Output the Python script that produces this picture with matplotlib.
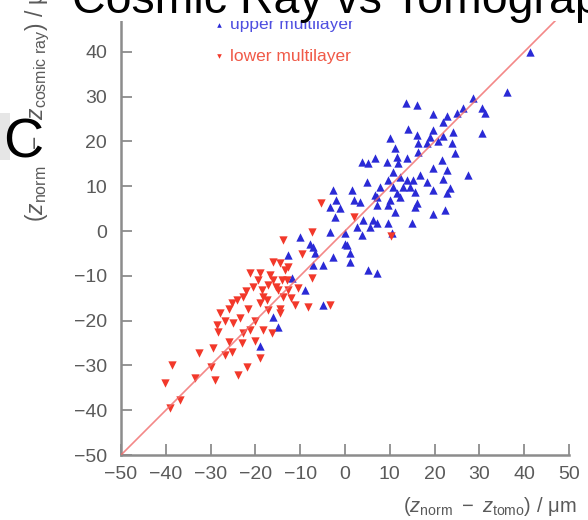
import matplotlib.pyplot as plt
from matplotlib.patches import Rectangle

plt.rcParams["font.family"] = ["Liberation Sans", "DejaVu Sans"]
plt.rcParams["mathtext.fontset"] = "custom"
plt.rcParams["mathtext.rm"] = "Liberation Sans"
plt.rcParams["mathtext.it"] = "Liberation Sans:italic"

# values (micrometres)
upper_x = [41.3, 36.1, 13.6, 16.0, 19.7, 22.7, 21.9, 28.6, 30.5, 31.3, 26.4, 24.9,
           30.5, 14.1, 16.0, 19.7, 19.0, 21.9, 24.2, 20.8, 23.8, 18.2, 10.0, 11.2,
           16.4, 16.4, 24.6, 11.5, 13.8, 6.7, 3.7, 5.2, 9.3, 11.9, 19.7, 21.6,
           22.7, 27.5, 21.9, 18.2, 19.7, 23.4, 22.7, 16.7, 10.8, 12.3, 13.8, 15.2,
           13.0, 14.5, 15.6, 11.5, 9.7, 10.8, 7.8, 4.8, -2.6, 1.5, 3.3, 6.7,
           9.7, 11.2, 15.6, 19.7, 22.3, 10.0, 12.3, 16.0, 7.1, 7.1, -1.9, 1.9,
           -3.3, -1.1, -2.2, 4.1, 6.3, 5.6, 2.6, 7.1, 3.7, 9.7, 14.9, 10.4,
           -3.3, 0.0, 0.4, -7.1, -6.7, -2.6, 1.1, -10.0, -7.8, 0.0, 1.1, -12.7,
           -4.8, -7.1, 5.2, 7.1, -11.9, -8.9, -4.8, -16.0, -15.0, -19.0]
upper_y = [40.0, 31.1, 28.5, 28.1, 26.2, 25.6, 24.4, 29.6, 27.4, 26.3, 27.4, 26.3,
           21.8, 22.7, 21.4, 22.5, 21.0, 21.1, 22.2, 20.0, 19.6, 19.6, 20.7, 18.5,
           19.6, 17.7, 17.3, 16.6, 16.2, 16.2, 15.5, 15.1, 15.5, 15.1, 14.0, 15.8,
           13.6, 12.5, 11.7, 11.0, 9.2, 9.5, 8.4, 12.5, 13.2, 12.1, 11.4, 11.4,
           9.9, 9.9, 8.8, 8.4, 11.4, 9.9, 9.9, 11.0, 9.2, 9.2, 6.5, 8.0,
           5.8, 4.3, 5.4, 3.9, 4.7, 6.9, 7.7, 6.2, 5.8, 7.7, 6.9, 6.9,
           5.4, 5.1, 3.2, 2.5, 2.5, 1.0, 1.0, 1.7, -0.9, 1.7, 1.7, -0.5,
           -0.2, -0.5, -3.1, -3.5, -5.0, -5.7, -5.0, -1.3, -2.8, -2.8, -6.9, -5.4,
           -7.6, -7.6, -8.7, -9.4, -10.6, -13.2, -16.5, -19.3, -21.5, -25.7]

lower_x = [-5.4, 2.0, -7.4, 10.2, -13.8, -9.6, -16.0, -14.5, -12.7, -13.4,
           -21.2, -19.0, -16.7, -16.0, -14.1, -17.1, -7.4, -20.5, -10.4, -14.9,
           -12.7, -18.6, -13.8, -18.2, -19.0, -24.2, -22.7, -25.3, -21.6, -14.5,
           -11.2, -8.2, -17.1, -3.3, -20.1, -23.4, -24.9, -21.2, -18.2, -22.7,
           -16.4, -14.5, -27.9, -26.8, -28.3, -26.0, -29.4, -26.8, -25.3, -32.7,
           -19.0, -38.7, -29.8, -21.9, -23.8, -33.5, -29.0, -40.2, -36.8, -39.1,
           -15.5, -13.0, -19.5, -22.0, -17.5, -26.0, -28.5, -23.0, -20.0, -12.0]
lower_y = [6.2, 3.2, -0.3, -1.2, -2.0, -5.2, -6.9, -7.2, -8.0, -8.7,
           -9.4, -9.4, -9.8, -10.9, -10.9, -12.1, -10.6, -12.4, -12.8, -13.2,
           -13.2, -13.2, -14.7, -14.7, -16.1, -15.4, -14.7, -16.1, -17.3, -17.3,
           -16.5, -16.9, -17.6, -16.5, -20.2, -19.5, -20.6, -22.1, -22.1, -22.8,
           -22.8, -18.4, -18.4, -20.2, -22.5, -24.7, -26.2, -27.7, -26.9, -27.3,
           -28.4, -29.9, -30.3, -30.3, -32.1, -32.9, -33.3, -34.0, -37.7, -39.6,
           -12.5, -11.0, -11.0, -13.5, -15.5, -17.5, -21.0, -25.0, -24.5, -15.0]

diag = [-50, 50]
ticks = [-50, -40, -30, -20, -10, 0, 10, 20, 30, 40, 50]

W, H = 588, 520
fig = plt.figure(figsize=(W / 100, H / 100), dpi=100)
ax = fig.add_axes([121 / W, 1 - 455 / H, 448 / W, 448 / H])

blue = "#2a2ad6"
red = "#f2382a"
axis_grey = "#8c8c8c"

ax.scatter(upper_x, upper_y, marker="^", s=36, color=blue, linewidths=0,
           label="upper multilayer", zorder=2)
ax.scatter(lower_x, lower_y, marker="v", s=36, color=red, linewidths=0,
           label="lower multilayer", zorder=2)
ax.plot(diag, diag, color="#f06a6a", lw=1.2, alpha=0.8, zorder=3)

ax.set_xlim(-50, 50)
ax.set_ylim(-50, 50)
ax.set_xticks(ticks)
ax.set_yticks(ticks[:-1])
for side in ["top", "right"]:
    ax.spines[side].set_visible(False)
for side in ["left", "bottom"]:
    ax.spines[side].set_color(axis_grey)
    ax.spines[side].set_linewidth(1.8)
ax.tick_params(direction="in", length=8, width=1.3, color=axis_grey,
               labelsize=14, labelcolor="#5a5a5a")
ax.tick_params(axis="x", pad=8)
ax.tick_params(axis="y", pad=10)

leg = ax.legend(loc="upper left", bbox_to_anchor=(214 / W, 1 - 17 / H),
                bbox_transform=fig.transFigure, frameon=False, fontsize=12.5,
                markerscale=0.55, handlelength=0.6, handletextpad=0.3,
                labelspacing=0.95, borderpad=0, borderaxespad=0,
                labelcolor=["#4e4ee0", "#f05a48"])

fig.text(576 / W, 1 - 507 / H, r"$(z_{\mathrm{norm}}\ -\ z_{\mathrm{tomo}})$ / μm",
         ha="right", va="center", fontsize=14.5, color="#5a5a5a")
fig.text(38 / W, 1 - 222 / H, r"$(z_{\mathrm{norm}}\ \ -\ \ z_{\mathrm{cosmic\ ray}})$ / μm",
         rotation=90, ha="center", va="bottom", fontsize=16.5, color="#5a5a5a")

# white band with the clipped title, and the stray panel letter
fig.patches.append(Rectangle((33 / W, 1 - 21 / H), 1, 21 / H, transform=fig.transFigure,
                             facecolor="white", edgecolor="none", zorder=2))
fig.text(72 / W, 1 - 13 / H, "Cosmic Ray vs Tomography", fontsize=33.5,
         ha="left", va="baseline", color="black", zorder=3)
fig.patches.append(Rectangle((0, 1 - 160 / H), 10 / W, 47 / H, transform=fig.transFigure,
                             facecolor="#e6e6e6", edgecolor="none", zorder=2))
fig.text(3 / W, 1 - 158 / H, "C", fontsize=40, ha="left", va="baseline",
         color="black", zorder=3)

fig.savefig("out.png", dpi=100)
